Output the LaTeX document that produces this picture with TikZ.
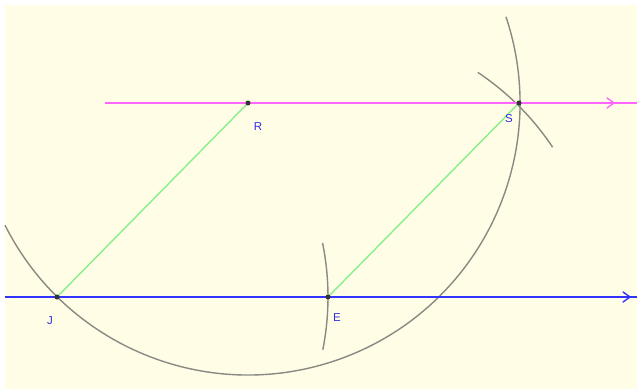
\documentclass[tikz,border=0pt]{standalone}
\usepackage{fontspec}
\setmainfont{Liberation Sans}
\usetikzlibrary{calc}
\definecolor{bgyel}{HTML}{FFFDE6}
\definecolor{magline}{HTML}{FF66FF}
\definecolor{blueline}{HTML}{3333FF}
\definecolor{greenline}{HTML}{88F088}
\definecolor{arcgray}{HTML}{8A8A82}
\definecolor{ptgray}{HTML}{333333}
\definecolor{lblblue}{HTML}{3030E0}
\begin{document}
\begin{tikzpicture}[x=1pt,y=-1pt,
  pt/.style={circle,fill=ptgray,inner sep=0pt,minimum size=5pt},
  lbl/.style={text=lblblue,font=\fontsize{11.5}{11.5}\selectfont,inner sep=0pt},
  arcline/.style={draw=arcgray,line width=1.4pt},
  chev/.style={line width=1.4pt,line cap=round,line join=round}]
\useasboundingbox (0,0) rectangle (637,391);
\fill[bgyel] (5,5) rectangle (637,389);
% coordinates
\coordinate (R) at (248,103);
\coordinate (S) at (519,103);
\coordinate (J) at (57,297);
\coordinate (E) at (328,297);
\coordinate (mstart) at (105,103);
\coordinate (mend) at (637,103);
\coordinate (mtip) at (614,103);
\coordinate (bstart) at (5,297);
\coordinate (bend) at (637,297);
\coordinate (btip) at (630,297);
% arcs
\draw[arcline] (R) ++(-18.5:272) arc[start angle=-18.5,end angle=153.3,radius=272];
\draw[arcline] (J) ++(-11.5:271) arc[start angle=-11.5,end angle=11.2,radius=271];
\draw[arcline] (E) ++(-56.3:270) arc[start angle=-56.3,end angle=-33.7,radius=270];
% green
\draw[greenline,line width=1.4pt] (J) -- (R);
\draw[greenline,line width=1.4pt] (E) -- (S);
% lines
\draw[magline,line width=1.6pt] (mstart) -- (mend);
\draw[magline,chev] ($(mtip)+(-7,-5)$) -- (mtip) -- ($(mtip)+(-7,5)$);
\draw[blueline,line width=1.4pt] (bstart) -- (bend);
\draw[blueline,chev] ($(btip)+(-7,-5)$) -- (btip) -- ($(btip)+(-7,5)$);
% points
\node[pt] (nR) at (R) {};
\node[pt] (nS) at (S) {};
\node[pt] (nJ) at (J) {};
\node[pt] (nE) at (E) {};
\node[lbl] (lR) at (258,127) {R};
\node[lbl] (lS) at (509,119) {S};
\node[lbl] (lJ) at (50,321) {J};
\node[lbl] (lE) at (337,318) {E};
\end{tikzpicture}
\end{document}
